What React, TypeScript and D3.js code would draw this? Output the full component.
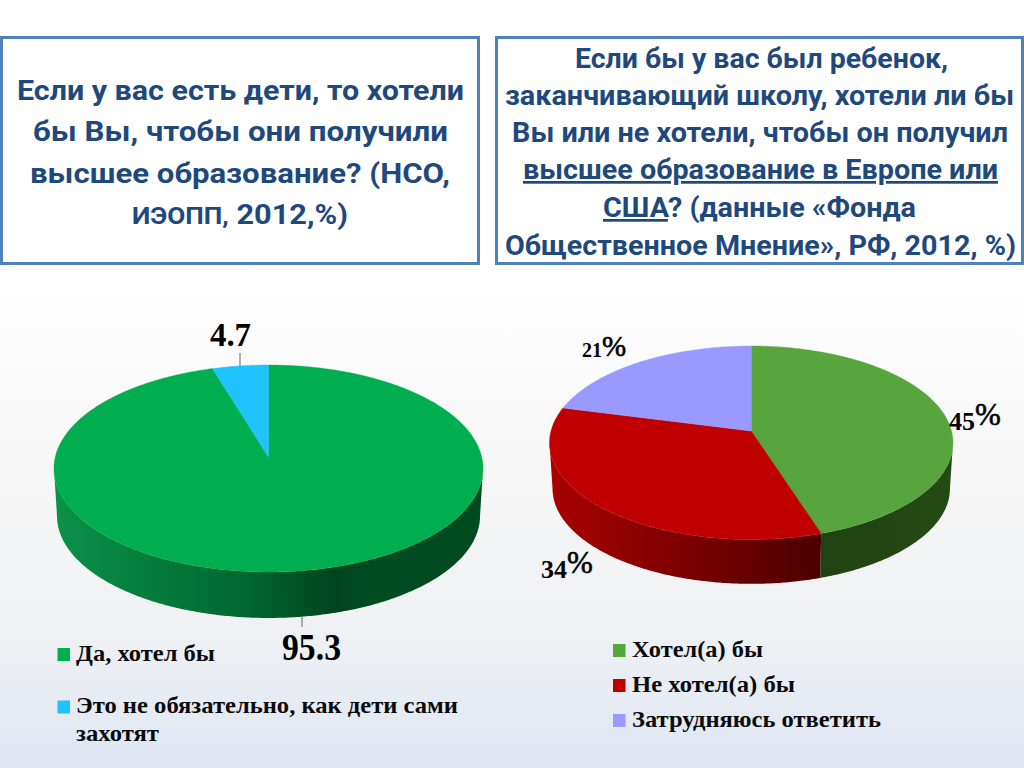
import React from 'react';
import * as d3 from 'd3';

const leftCategories = ['Да, хотел бы', 'Это не обязательно, как дети сами захотят'];
const leftValues = [95.3, 4.7];
const leftColors = ['#00ad4f', '#1fc3fd'];

const rightCategories = ['Хотел(а) бы', 'Не хотел(а) бы', 'Затрудняюсь ответить'];
const rightValues = [45, 34, 21];
const rightColors = ['#57a53c', '#c00000', '#9999ff'];

const TITLE_FONT = 'Roboto, "Noto Sans", sans-serif';
const SERIF = '"Liberation Serif", serif';
const TITLE_COLOR = '#1f497d';

// projected disc: apex position, half axes, perspective factor, height of the wall
interface Disc {
  cx: number;
  cy: number;
  a: number;
  b: number;
  k: number;
  depth: number;
  shrink: number;
}

const leftDisc: Disc = { cx: 268.5, cy: 457, a: 213.2, b: 102.2, k: 0.111, depth: 47.6, shrink: 0.986 };
const rightDisc: Disc = { cx: 751.25, cy: 431, a: 200.25, b: 95.3, k: 0.1214, depth: 46, shrink: 0.985 };

const project = (d: Disc, t: number, lower = false): [number, number] => {
  const s = 1 / (1 + d.k * Math.cos(t));
  const f = lower ? d.shrink : 1;
  return [
    d.cx + f * d.a * Math.sin(t) * s,
    d.cy + (lower ? d.depth : 0) - f * d.b * Math.cos(t) * s,
  ];
};

const line = d3.line();
const pie = d3.pie<number>().sort(null);
const arcSteps = (a: number, b: number) => {
  const n = Math.max(2, Math.ceil((b - a) / 0.01));
  return d3.range(n + 1).map((i) => a + ((b - a) * i) / n);
};

const topPath = (d: Disc, a: number, b: number) =>
  line([[d.cx, d.cy], ...arcSteps(a, b).map((t) => project(d, t))]) + 'Z';

const wallPath = (d: Disc, a: number, b: number) => {
  const steps = arcSteps(a, b);
  return (
    line([
      ...steps.map((t) => project(d, t)),
      ...steps.slice().reverse().map((t) => project(d, t, true)),
    ]) + 'Z'
  );
};

const Pie3D: React.FC<{ disc: Disc; values: number[]; colors: string[]; walls: string[] }> = ({
  disc,
  values,
  colors,
  walls,
}) => {
  const slices = pie(values);
  // the wall only shows between the two silhouette points of the ellipse
  const from = Math.acos(-disc.k);
  const to = 2 * Math.PI - from;
  return (
    <g>
      {slices.map((s, i) => {
        const a = Math.max(s.startAngle, from);
        const b = Math.min(s.endAngle, to);
        if (a >= b) return null;
        return <path key={i} d={wallPath(disc, a, b)} fill={walls[i]} />;
      })}
      {slices.map((s, i) => (
        <path
          key={i}
          d={topPath(disc, s.startAngle, s.endAngle)}
          fill={colors[i]}
          stroke={colors[i]}
          strokeWidth={0.4}
        />
      ))}
    </g>
  );
};

const Gradient: React.FC<{ id: string; x1: number; x2: number; stops: [number, string][] }> = ({
  id,
  x1,
  x2,
  stops,
}) => (
  <linearGradient id={id} gradientUnits="userSpaceOnUse" x1={x1} x2={x2} y1={0} y2={0}>
    {stops.map(([o, c]) => (
      <stop key={o} offset={o} stopColor={c} />
    ))}
  </linearGradient>
);

const TitleLine: React.FC<{ x1: number; x2: number; y: number; children: React.ReactNode }> = ({
  x1,
  x2,
  y,
  children,
}) => (
  <text
    x={x1}
    y={y}
    textLength={x2 - x1}
    lengthAdjust="spacingAndGlyphs"
    fontFamily={TITLE_FONT}
    fontWeight={700}
    fontSize={27}
    fill={TITLE_COLOR}
  >
    {children}
  </text>
);

const LegendText: React.FC<{ x1: number; x2: number; y: number; children: React.ReactNode }> = ({
  x1,
  x2,
  y,
  children,
}) => (
  <text
    x={x1}
    y={y}
    textLength={x2 - x1}
    lengthAdjust="spacingAndGlyphs"
    fontFamily={SERIF}
    fontWeight={700}
    fontSize={23}
    fill="#0a0a0a"
  >
    {children}
  </text>
);

const Num: React.FC<{ x1: number; x2: number; y: number; size: number; children: React.ReactNode }> = ({
  x1,
  x2,
  y,
  size,
  children,
}) => (
  <text
    x={x1}
    y={y}
    textLength={x2 - x1}
    lengthAdjust="spacingAndGlyphs"
    fontFamily={SERIF}
    fontWeight={700}
    fontSize={size}
    fill="#000"
  >
    {children}
  </text>
);

// percent labels: small digits with a raised, larger percent sign
const Pct: React.FC<{ x: number; y: number; digit: number; sign: number; rise: number; value: number }> = ({
  x,
  y,
  digit,
  sign,
  rise,
  value,
}) => (
  <text x={x} y={y} fontFamily={SERIF} fontWeight={700} fontSize={digit} fill="#000">
    {value}
    <tspan fontSize={sign} fontWeight={400} dy={-rise} stroke="#000" strokeWidth={0.6}>%</tspan>
  </text>
);

const App: React.FC = () => (
  <svg
    width={1024}
    height={768}
    viewBox="0 0 1024 768"
    style={{ position: 'absolute', left: 0, top: 0, display: 'block' }}
  >
    <defs>
      <linearGradient id="bg" x1={0} x2={0} y1={0} y2={1}>
        <stop offset={0} stopColor="#ffffff" />
        <stop offset={0.34} stopColor="#ffffff" />
        <stop offset={0.62} stopColor="#f6f6f6" />
        <stop offset={0.8} stopColor="#f1f2f4" />
        <stop offset={1} stopColor="#dfe6f2" />
      </linearGradient>
      <Gradient
        id="wallGreen"
        x1={57}
        x2={480}
        stops={[
          [0, '#0b9148'],
          [0.2, '#067e3c'],
          [0.45, '#006730'],
          [0.66, '#00441f'],
          [0.75, '#004c23'],
          [1, '#004a20'],
        ]}
      />
      <Gradient
        id="wallRed"
        x1={552}
        x2={821}
        stops={[
          [0, '#a80000'],
          [0.4, '#850000'],
          [0.75, '#640000'],
          [1, '#4c0000'],
        ]}
      />
      <Gradient
        id="wallOlive"
        x1={821}
        x2={950}
        stops={[
          [0, '#1f4212'],
          [1, '#254b14'],
        ]}
      />
    </defs>

    <rect x={0} y={0} width={1024} height={768} fill="url(#bg)" />

    <rect x={1.5} y={37.5} width={477} height={226} fill="#fff" stroke="#4f81bd" strokeWidth={3} />
    <rect x={496.5} y={37.5} width={526} height={226} fill="#fff" stroke="#4f81bd" strokeWidth={3} />

    <TitleLine x1={17} x2={464} y={100}>Если у вас есть дети, то хотели</TitleLine>
    <TitleLine x1={33} x2={448} y={141}>бы Вы, чтобы они получили</TitleLine>
    <TitleLine x1={30} x2={450} y={183}>высшее образование? (НСО,</TitleLine>
    <TitleLine x1={132} x2={348} y={224}>
      <tspan fontSize={23}>ИЭОПП,</tspan> 2012,%)
    </TitleLine>

    <TitleLine x1={575} x2={948} y={68}>Если бы у вас был ребенок,</TitleLine>
    <TitleLine x1={505} x2={1014} y={105}>заканчивающий школу, хотели ли бы</TitleLine>
    <TitleLine x1={512} x2={1008} y={142}>Вы или не хотели, чтобы он получил</TitleLine>
    <TitleLine x1={523} x2={998} y={179}>
      <tspan textDecoration="underline">высшее образование в Европе или</tspan>
    </TitleLine>
    <TitleLine x1={603} x2={916} y={217}>
      <tspan textDecoration="underline">США</tspan>? (данные «Фонда
    </TitleLine>
    <TitleLine x1={505} x2={1016} y={255}>Общественное Мнение», РФ, 2012, %)</TitleLine>

    <Pie3D
      disc={leftDisc}
      values={leftValues}
      colors={leftColors}
      walls={['url(#wallGreen)', leftColors[1]]}
    />
    <Pie3D
      disc={rightDisc}
      values={rightValues}
      colors={rightColors}
      walls={['url(#wallOlive)', 'url(#wallRed)', rightColors[2]]}
    />

    {/* leader lines */}
    <line x1={240} x2={240} y1={353} y2={366} stroke="#666" strokeWidth={1} />
    <line x1={302} x2={302} y1={617} y2={627} stroke="#666" strokeWidth={1} />

    <Num x1={210} x2={251} y={346} size={34}>{leftValues[1]}</Num>
    <Num x1={282} x2={341} y={660} size={37}>{leftValues[0]}</Num>

    <Pct x={582} y={357} digit={20} sign={29} rise={1} value={rightValues[2]} />
    <Pct x={949} y={430} digit={26} sign={31} rise={5} value={rightValues[0]} />
    <Pct x={541} y={578} digit={26} sign={31} rise={5} value={rightValues[1]} />

    {/* left legend */}
    <rect x={57.5} y={648} width={12.5} height={13} fill={leftColors[0]} />
    <LegendText x1={76} x2={215} y={661}>{leftCategories[0]}</LegendText>
    <rect x={57.5} y={700.5} width={12.5} height={13} fill={leftColors[1]} />
    <LegendText x1={76} x2={458} y={713}>{leftCategories[1].replace(' захотят', '')}</LegendText>
    <LegendText x1={76} x2={159} y={741}>{leftCategories[1].split(' ').pop()}</LegendText>

    {/* right legend */}
    <rect x={613} y={644} width={12.5} height={13} fill={rightColors[0]} />
    <LegendText x1={632} x2={763} y={657}>{rightCategories[0]}</LegendText>
    <rect x={613} y={679} width={12.5} height={13} fill={rightColors[1]} />
    <LegendText x1={632} x2={795} y={692}>{rightCategories[1]}</LegendText>
    <rect x={613} y={714} width={12.5} height={13} fill={rightColors[2]} />
    <LegendText x1={632} x2={881} y={727}>{rightCategories[2]}</LegendText>
  </svg>
);

export default App;
